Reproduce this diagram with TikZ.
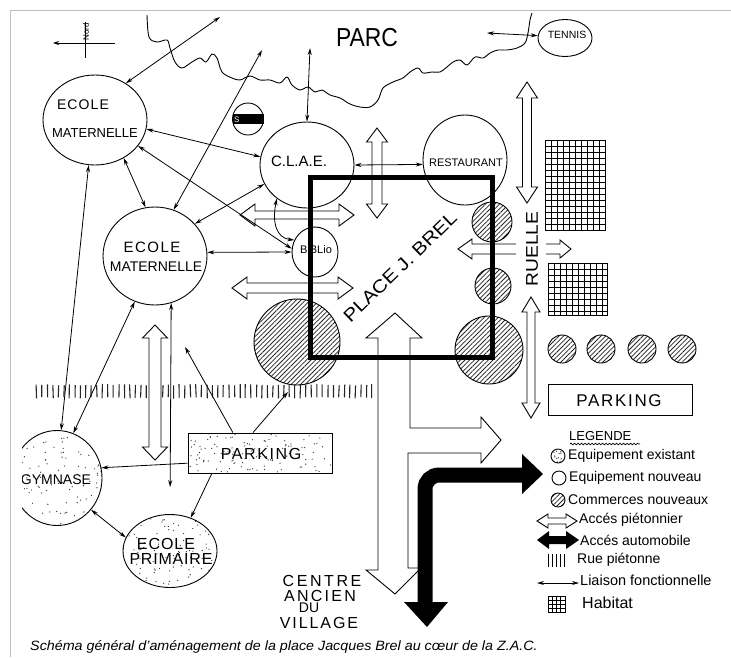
\documentclass[tikz,border=0pt]{standalone}
\usepackage{fontspec}
\setmainfont{Liberation Sans}
\usetikzlibrary{shapes.geometric,arrows.meta,patterns.meta,calc,decorations.pathmorphing}
\newcommand\fsz[1]{\fontsize{#1}{#1}\selectfont}
\newcommand\lsp[1]{\addfontfeature{LetterSpace=#1}}
% horizontal hollow double arrow: x1, x2, y, shaft half, head half, head length
\newcommand\pedH[6]{\draw[ped] (#1,#3) -- ({#1+#6},{#3-#5}) -- ({#1+#6},{#3-#4}) -- ({#2-#6},{#3-#4}) -- ({#2-#6},{#3-#5}) -- (#2,#3) -- ({#2-#6},{#3+#5}) -- ({#2-#6},{#3+#4}) -- ({#1+#6},{#3+#4}) -- ({#1+#6},{#3+#5}) -- cycle;}
% vertical hollow double arrow: y1, y2, x, shaft half, head half, head length
\newcommand\pedV[6]{\draw[ped] (#3,#1) -- ({#3-#5},{#1+#6}) -- ({#3-#4},{#1+#6}) -- ({#3-#4},{#2-#6}) -- ({#3-#5},{#2-#6}) -- (#3,#2) -- ({#3+#5},{#2-#6}) -- ({#3+#4},{#2-#6}) -- ({#3+#4},{#1+#6}) -- ({#3+#5},{#1+#6}) -- cycle;}
\tikzset{
  circ/.style={ellipse, draw, line width=0.9pt, inner sep=0pt},
  hatched/.style={circ, pattern={Lines[angle=45,distance=3.3pt,line width=0.75pt]}, pattern color=black!85},
  liaison/.style={line width=0.8pt, arrows={Stealth[length=7pt,width=4pt]-Stealth[length=7pt,width=4pt]}},
  liaisonR/.style={line width=0.8pt, arrows={-Stealth[length=7pt,width=4pt]}},
  ped/.style={draw, fill=white, line width=0.9pt, line join=miter},
  lbl/.style={inner sep=0pt},
  stipple/.style={path picture={\foreach \k in {1,...,#1}{\fill[black!80] let \p1=(path picture bounding box.south west), \p2=(path picture bounding box.north east) in ({\x1+rnd*(\x2-\x1)},{\y1+rnd*(\y2-\y1)}) circle[radius=0.65pt];}}},
  grd/.style={line width=0.6pt}
}
\begin{document}
\begin{tikzpicture}[x=1pt,y=-1pt]
\useasboundingbox (0,0) rectangle (731,657);
\fill[white] (0,0) rectangle (731,657);
\draw[black!25, line width=1pt] (10,657) -- (10,10) -- (731,10);
\pgfmathsetseed{7}
% rue pietonne band
\foreach \x in {36,41.5,...,372} \draw[line width=1.1pt, black!85] ({\x+0.8*rnd},{384+1.5*rnd}) -- ({\x+0.8*rnd},{397+1.5*rnd});
% parc outline
\draw[line width=0.9pt] plot[smooth, tension=0.55] coordinates {(147,15) (149,37) (157,42) (167,40) (170,48) (175,62) (182,68) (192,62) (200,58) (206,62) (212,54) (217,58) (222,72) (232,78) (240,80) (250,76) (260,80) (270,80) (280,83) (287,77) (292,85) (300,90) (308,87) (315,92) (322,90) (330,95) (340,98) (350,104) (360,107) (370,107) (378,100) (383,88) (393,82) (403,78) (410,72) (418,68) (423,73) (432,72) (440,72) (447,67) (453,62) (460,60) (467,65) (475,57) (483,58) (490,53) (498,50) (507,50) (517,48) (525,43) (528,33) (530,20) (532,13)};
\node[lbl, font=\fsz{26}, xscale=0.88] (parc) at (367,38) {PARC};
% north sign
\draw[line width=0.8pt, -{Stealth[length=6pt,width=4pt]}] (115,43) -- (53,43);
\draw[line width=0.8pt] (85,22) -- (85,58);
\node[lbl, rotate=90, font=\fsz{8}] (nord) at (86,32) {Nord};
% nodes
\node[circ, minimum width=104pt, minimum height=90pt] (em1) at (95,120) {};
\node[circ, minimum width=104pt, minimum height=98pt] (em2) at (155,256) {};
\node[circ, minimum width=94pt, minimum height=86pt] (clae) at (307,165) {};
\node[circ, minimum width=84pt, minimum height=90pt] (rest) at (465,160) {};
\node[circ, minimum width=46pt, minimum height=50pt] (biblio) at (315,252) {};
\node[circ, minimum width=54pt, minimum height=37pt] (tennis) at (565,38) {};
\node[circ, minimum width=31pt, minimum height=32pt] (sbar) at (248,119) {};
\node[fill=black, minimum width=31pt, minimum height=10pt, inner sep=0pt] (sbarb) at (248,119) {};
\node[lbl, text=white, font=\fsz{8}, anchor=west] (sbars) at (234,119.5) {S};
\begin{scope}
\clip (22,0) rectangle (731,657);
\node[circ, stipple=110, minimum width=90pt, minimum height=95pt] (gym) at (57,478) {};
\node[lbl, font=\fsz{14}] (gymt) at (56,480) {GYMNASE};
\end{scope}
\node[circ, stipple=100, minimum width=94pt, minimum height=73pt] (ep) at (170,551) {};
\node[draw, rectangle, line width=0.9pt, inner sep=0pt, stipple=120, minimum width=144pt, minimum height=40pt] (park1) at (260,453) {};
\node[draw, rectangle, line width=0.9pt, inner sep=0pt, minimum width=144pt, minimum height=31pt] (park2) at (620,400) {};
\node[hatched, minimum size=86pt] (hc1) at (297,342) {};
\node[hatched, minimum size=68pt] (hc2) at (489,350) {};
\node[hatched, minimum size=40pt] (hc3) at (492,222) {};
\node[hatched, minimum size=36pt] (hc4) at (493,286) {};
\node[hatched, minimum size=28pt] (hc5) at (562,349) {};
\node[hatched, minimum size=28pt] (hc6) at (601,349) {};
\node[hatched, minimum size=28pt] (hc7) at (642,349) {};
\node[hatched, minimum size=28pt] (hc8) at (682,349) {};
% habitat grids
\draw[line width=0.8pt] (545,140) rectangle (605,230);
\foreach \x in {551,557,...,600} \draw[grd] (\x,140) -- (\x,230);
\foreach \y in {146,152,...,226} \draw[grd] (545,\y) -- (605,\y);
\draw[line width=0.8pt] (548,263) rectangle (607,315);
\foreach \x in {554,560,...,602} \draw[grd] (\x,263) -- (\x,315);
\foreach \y in {269,275,...,311} \draw[grd] (548,\y) -- (607,\y);
% pedestrian accesses
\pedV{128}{218}{377}{5}{10.5}{14}
\pedH{240}{354}{215}{4}{11}{15}
\pedH{232}{353}{288}{5}{11}{15}
\pedV{82}{203}{527}{4.5}{10.5}{16}
\pedV{297}{418}{531}{4}{9}{15}
\pedV{325}{460}{155}{6}{12.5}{13}
\draw[line width=0.9pt, line join=miter] (516,244) -- (472,244) -- (472,239) -- (458,249) -- (472,259) -- (472,254) -- (516,254);
\draw[line width=0.9pt, line join=miter] (546,244) -- (560,244) -- (560,240) -- (571,249) -- (560,258) -- (560,254) -- (546,254);
\draw[ped] (395,313) -- (422,338) -- (410,338) -- (410,428) -- (481,428) -- (481,417) -- (501,440) -- (481,463) -- (481,453) -- (408,453) -- (408,568) -- (421,568) -- (395,594) -- (366,570) -- (378,570) -- (378,338) -- (366,338) -- cycle;
% place
\draw[line width=5pt, line join=miter] (310,177) rectangle (492,357);
% car access
\draw[line width=15pt, rounded corners=14pt] (425,604) -- (425,475) -- (524,475);
\fill (404,602) -- (448,602) -- (427,627) -- cycle;
\fill (522,454) -- (543,474) -- (522,494) -- cycle;
% functional links
\coordinate (pa) at (220,17);
\coordinate (pb) at (262,50);
\coordinate (pc) at (310,48);
\coordinate (te) at (487,33);
\coordinate (n1) at (185,347);
\coordinate (o1) at (288,392);
\draw[liaison] (pa) -- (em1.50);
\draw[liaison] (pb) -- (em2.68);
\draw[liaison] (pc) -- (clae.90);
\draw[liaison] (em1.-10) -- (clae.170);
\draw[liaison] (em1.-31) -- (biblio.172);
\draw[liaison] (em1.-53) -- (em2.101);
\draw[liaison] (clae.204) -- (em2.39);
\draw[liaison] (em2.4) -- (biblio.180);
\draw[liaison] (clae.228) .. controls (272,222) and (276,238) .. (biblio.150);
\draw[liaison] (em1.-98) -- (gym.85);
\draw[liaison] (em2.-114) -- (gym.70);
\draw[liaison, shorten >=27pt] (em2.-71) -- (ep.90);
\draw[liaisonR] (park1.143) -- (n1);
\draw[liaisonR] (park1.109) -- (o1);
\draw[liaisonR] (park1.188) -- (gym.13);
\draw[liaisonR] (park1.203) -- (ep.58);
\draw[liaison] (gym.-43) -- (ep.163);
\draw[liaison] (clae.0) -- (rest.186);
\draw[liaison] (te) -- (tennis.175);
% labels
\node[lbl, font=\fsz{14}\lsp{8}] (em1a) at (83,105) {ECOLE};
\node[lbl, font=\fsz{13}] (em1b) at (95,133) {MATERNELLE};
\node[lbl, font=\fsz{15}\lsp{10}] (em2a) at (152,247) {ECOLE};
\node[lbl, font=\fsz{14}] (em2b) at (156,267) {MATERNELLE};
\node[lbl, font=\fsz{15}] (claet) at (299,161) {C.L.A.E.};
\node[lbl, font=\fsz{11}] (restt) at (466,163) {RESTAURANT};
\node[lbl, font=\fsz{11}] (bibliot) at (316,250) {BiBLio};
\node[lbl, font=\fsz{10.5}] (tennist) at (567,35) {TENNIS};
\node[lbl, font=\fsz{16}\lsp{6}] (epa) at (166,544) {ECOLE};
\node[lbl, font=\fsz{16}\lsp{5}] (epb) at (171,559) {PRIMAIRE};
\node[lbl, font=\fsz{16}\lsp{10}] (park1t) at (261,454) {PARKING};
\node[lbl, font=\fsz{17}\lsp{10}] (park2t) at (619,401) {PARKING};
\node[lbl, font=\fsz{18}, rotate=44, xscale=1.15] (place) at (400,267) {PLACE J. BREL};
\node[lbl, font=\fsz{17}, rotate=90, xscale=1.13] (ruelle) at (532,249) {RUELLE};
\node[lbl, font=\fsz{16}\lsp{16}] (c1) at (322,581) {CENTRE};
\node[lbl, font=\fsz{16}\lsp{14}] (c2) at (320,596) {ANCIEN};
\node[lbl, font=\fsz{14}] (c3) at (309,608) {DU};
\node[lbl, font=\fsz{16}\lsp{12}] (c4) at (319,623) {VILLAGE};
% legend
\node[lbl, font=\fsz{13}, anchor=west] (leg) at (569,436) {LEGENDE};
\draw[decorate, decoration={snake, amplitude=0.8pt, segment length=3.5pt}, line width=0.7pt] (570,444) -- (640,444);
\node[circ, stipple=14, minimum size=14pt] (lg1) at (558,456) {};
\node[lbl, anchor=west, font=\fsz{14}] (lt1) at (568,456) {Equipement existant};
\node[circ, minimum size=14pt] (lg2) at (559,478) {};
\node[lbl, anchor=west, font=\fsz{14}] (lt2) at (569,478) {Equipement nouveau};
\node[hatched, minimum size=14pt] (lg3) at (558,500) {};
\node[lbl, anchor=west, font=\fsz{14}] (lt3) at (568,500) {Commerces nouveaux};
\pedH{537}{577}{521}{3}{7}{11}
\node[lbl, anchor=west, font=\fsz{14}] (lt4) at (579,520) {Accés piétonnier};
\fill (537,540) -- (549,531) -- (549,536) -- (566,536) -- (566,531) -- (579,540) -- (566,549) -- (566,544) -- (549,544) -- (549,549) -- cycle;
\node[lbl, anchor=west, font=\fsz{14}] (lt5) at (580,540) {Accés automobile};
\foreach \x in {548,552,556,560,564} \draw[line width=1pt] (\x,554) -- (\x,567);
\node[lbl, anchor=west, font=\fsz{14}] (lt6) at (577,560) {Rue piétonne};
\coordinate (l7a) at (537,583);
\coordinate (l7b) at (579,583);
\draw[liaison] (l7a) -- (l7b);
\node[lbl, anchor=west, font=\fsz{14.5}] (lt7) at (580,580) {Liaison fonctionnelle};
\draw[line width=0.8pt] (548,596) rectangle (565,612);
\foreach \x in {552.25,556.5,560.75} \draw[grd] (\x,596) -- (\x,612);
\foreach \y in {600,604,608} \draw[grd] (548,\y) -- (565,\y);
\node[lbl, anchor=west, font=\fsz{16}] (lt8) at (582,603) {Habitat};
% caption
\node[lbl, anchor=west, font=\fsz{13.5}\itshape, xscale=1.06] (cap) at (30,647) {Schéma général d'aménagement de la place Jacques Brel au cœur de la Z.A.C.};
\end{tikzpicture}
\end{document}
